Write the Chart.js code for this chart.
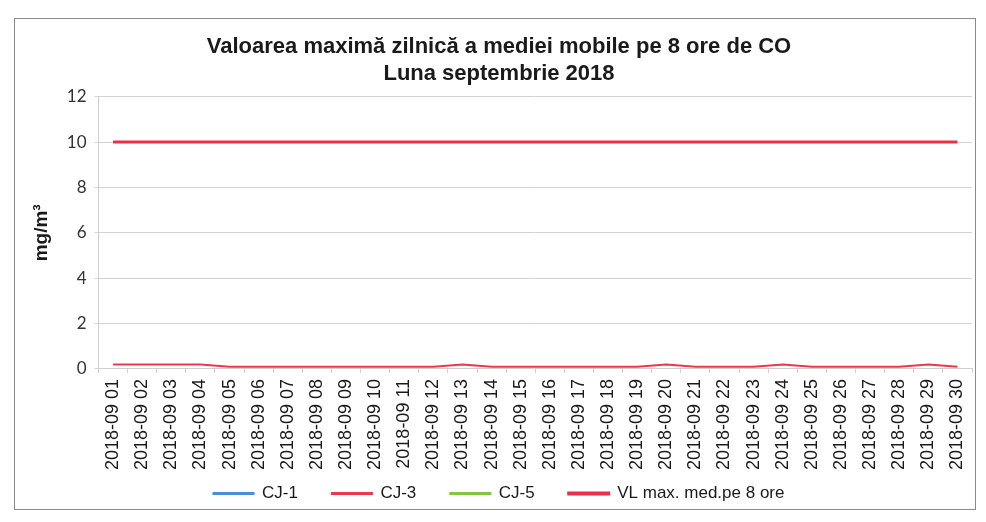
<!DOCTYPE html>
<html>
<head>
<meta charset="utf-8">
<script src="https://cdn.jsdelivr.net/npm/chart.js@4"></script>
<style>
  html, body { margin: 0; padding: 0; background: #fff; }
  #wrap { position: relative; width: 986px; height: 522px; }
  #frame { position: absolute; left: 14px; top: 18px; width: 962px; height: 492px; border: 1px solid #8a8a8a; box-sizing: border-box; }
  canvas { position: absolute; left: 0; top: 0; }
</style>
</head>
<body>
<div id="wrap">
  <div id="frame"></div>
  <canvas id="chart" width="986" height="522"></canvas>
</div>
<script>
(function () {
  'use strict';

  // ── Data ────────────────────────────────────────────────
  var days = [];
  for (var d = 1; d <= 30; d++) days.push('2018-09 ' + (d < 10 ? '0' + d : d));

  var cj1 = [null, null, null, null, null, null, null, null, null, null,
             null, null, null, null, null, null, null, null, null, null,
             null, null, null, null, null, null, null, null, null, null];
  var cj3 = [0.2, 0.2, 0.2, 0.2, 0.1, 0.1, 0.1, 0.1, 0.1, 0.1,
             0.1, 0.1, 0.2, 0.1, 0.1, 0.1, 0.1, 0.1, 0.1, 0.2,
             0.1, 0.1, 0.1, 0.2, 0.1, 0.1, 0.1, 0.1, 0.2, 0.1];
  var cj5 = [null, null, null, null, null, null, null, null, null, null,
             null, null, null, null, null, null, null, null, null, null,
             null, null, null, null, null, null, null, null, null, null];
  var vl  = [10, 10, 10, 10, 10, 10, 10, 10, 10, 10,
             10, 10, 10, 10, 10, 10, 10, 10, 10, 10,
             10, 10, 10, 10, 10, 10, 10, 10, 10, 10];

  var BLUE  = '#4a8fd6';
  var RED   = '#e8394f';
  var GREEN = '#86c440';
  var VLRED = '#e8304a';
  var AXIS  = '#cfcfcf';

  var FONT = '"Liberation Sans", Arial, sans-serif';
  var LEGEND_TRIM = 25;

  function line(label, data, color, width) {
    return {
      label: label, data: data,
      borderColor: color, backgroundColor: color,
      borderWidth: width, pointRadius: 0, tension: 0, fill: false
    };
  }

  // wide gaps between legend items without the tall box that padding brings
  var legendTrim = {
    id: 'legendTrim',
    beforeInit: function (chart) {
      var lg = chart.legend;
      if (!lg) return;
      var fit = lg.fit;
      lg.fit = function () { fit.call(this); this.height -= LEGEND_TRIM; };
    },
    afterLayout: function (chart) {
      if (chart.legend) chart.legend.top -= LEGEND_TRIM;
    }
  };

  new Chart(document.getElementById('chart'), {
    type: 'line',
    data: {
      labels: days,
      datasets: [
        line('CJ-1', cj1, BLUE, 2),
        line('CJ-3', cj3, RED, 2),
        line('CJ-5', cj5, GREEN, 2),
        line('VL max. med.pe 8 ore', vl, VLRED, 3)
      ]
    },
    options: {
      responsive: false,
      animation: false,
      layout: { padding: { left: 26, right: 14, top: 34, bottom: 10 } },
      plugins: {
        title: {
          display: true,
          text: ['Valoarea maximă zilnică a mediei mobile pe 8 ore de CO', 'Luna septembrie 2018'],
          color: '#1a1a1a',
          font: { family: FONT, size: 22, weight: 'bold', lineHeight: 1.22 },
          padding: { top: 0, bottom: 9 }
        },
        legend: {
          position: 'bottom',
          labels: {
            color: '#1a1a1a',
            font: { family: FONT, size: 17 },
            boxWidth: 40, boxHeight: 1, padding: 34
          }
        },
        tooltip: { enabled: false }
      },
      scales: {
        y: {
          min: 0, max: 12,
          ticks: { stepSize: 2, color: '#333', font: { family: 'Lato, sans-serif', size: 17 }, padding: 8 },
          grid: { color: '#d4d4d4', tickLength: 4 },
          border: { display: true, color: AXIS },
          title: { display: true, text: 'mg/m³', color: '#1a1a1a', font: { family: FONT, size: 19, weight: 'bold' }, padding: { bottom: 6 } }
        },
        x: {
          offset: true,
          ticks: { color: '#1a1a1a', font: { family: FONT, size: 18 }, minRotation: 90, maxRotation: 90, autoSkip: false, padding: 6 },
          grid: { display: true, drawOnChartArea: false, offset: true, tickLength: 4, color: AXIS },
          border: { color: AXIS }
        }
      }
    },
    plugins: [legendTrim]
  });
}());
</script>
</body>
</html>
